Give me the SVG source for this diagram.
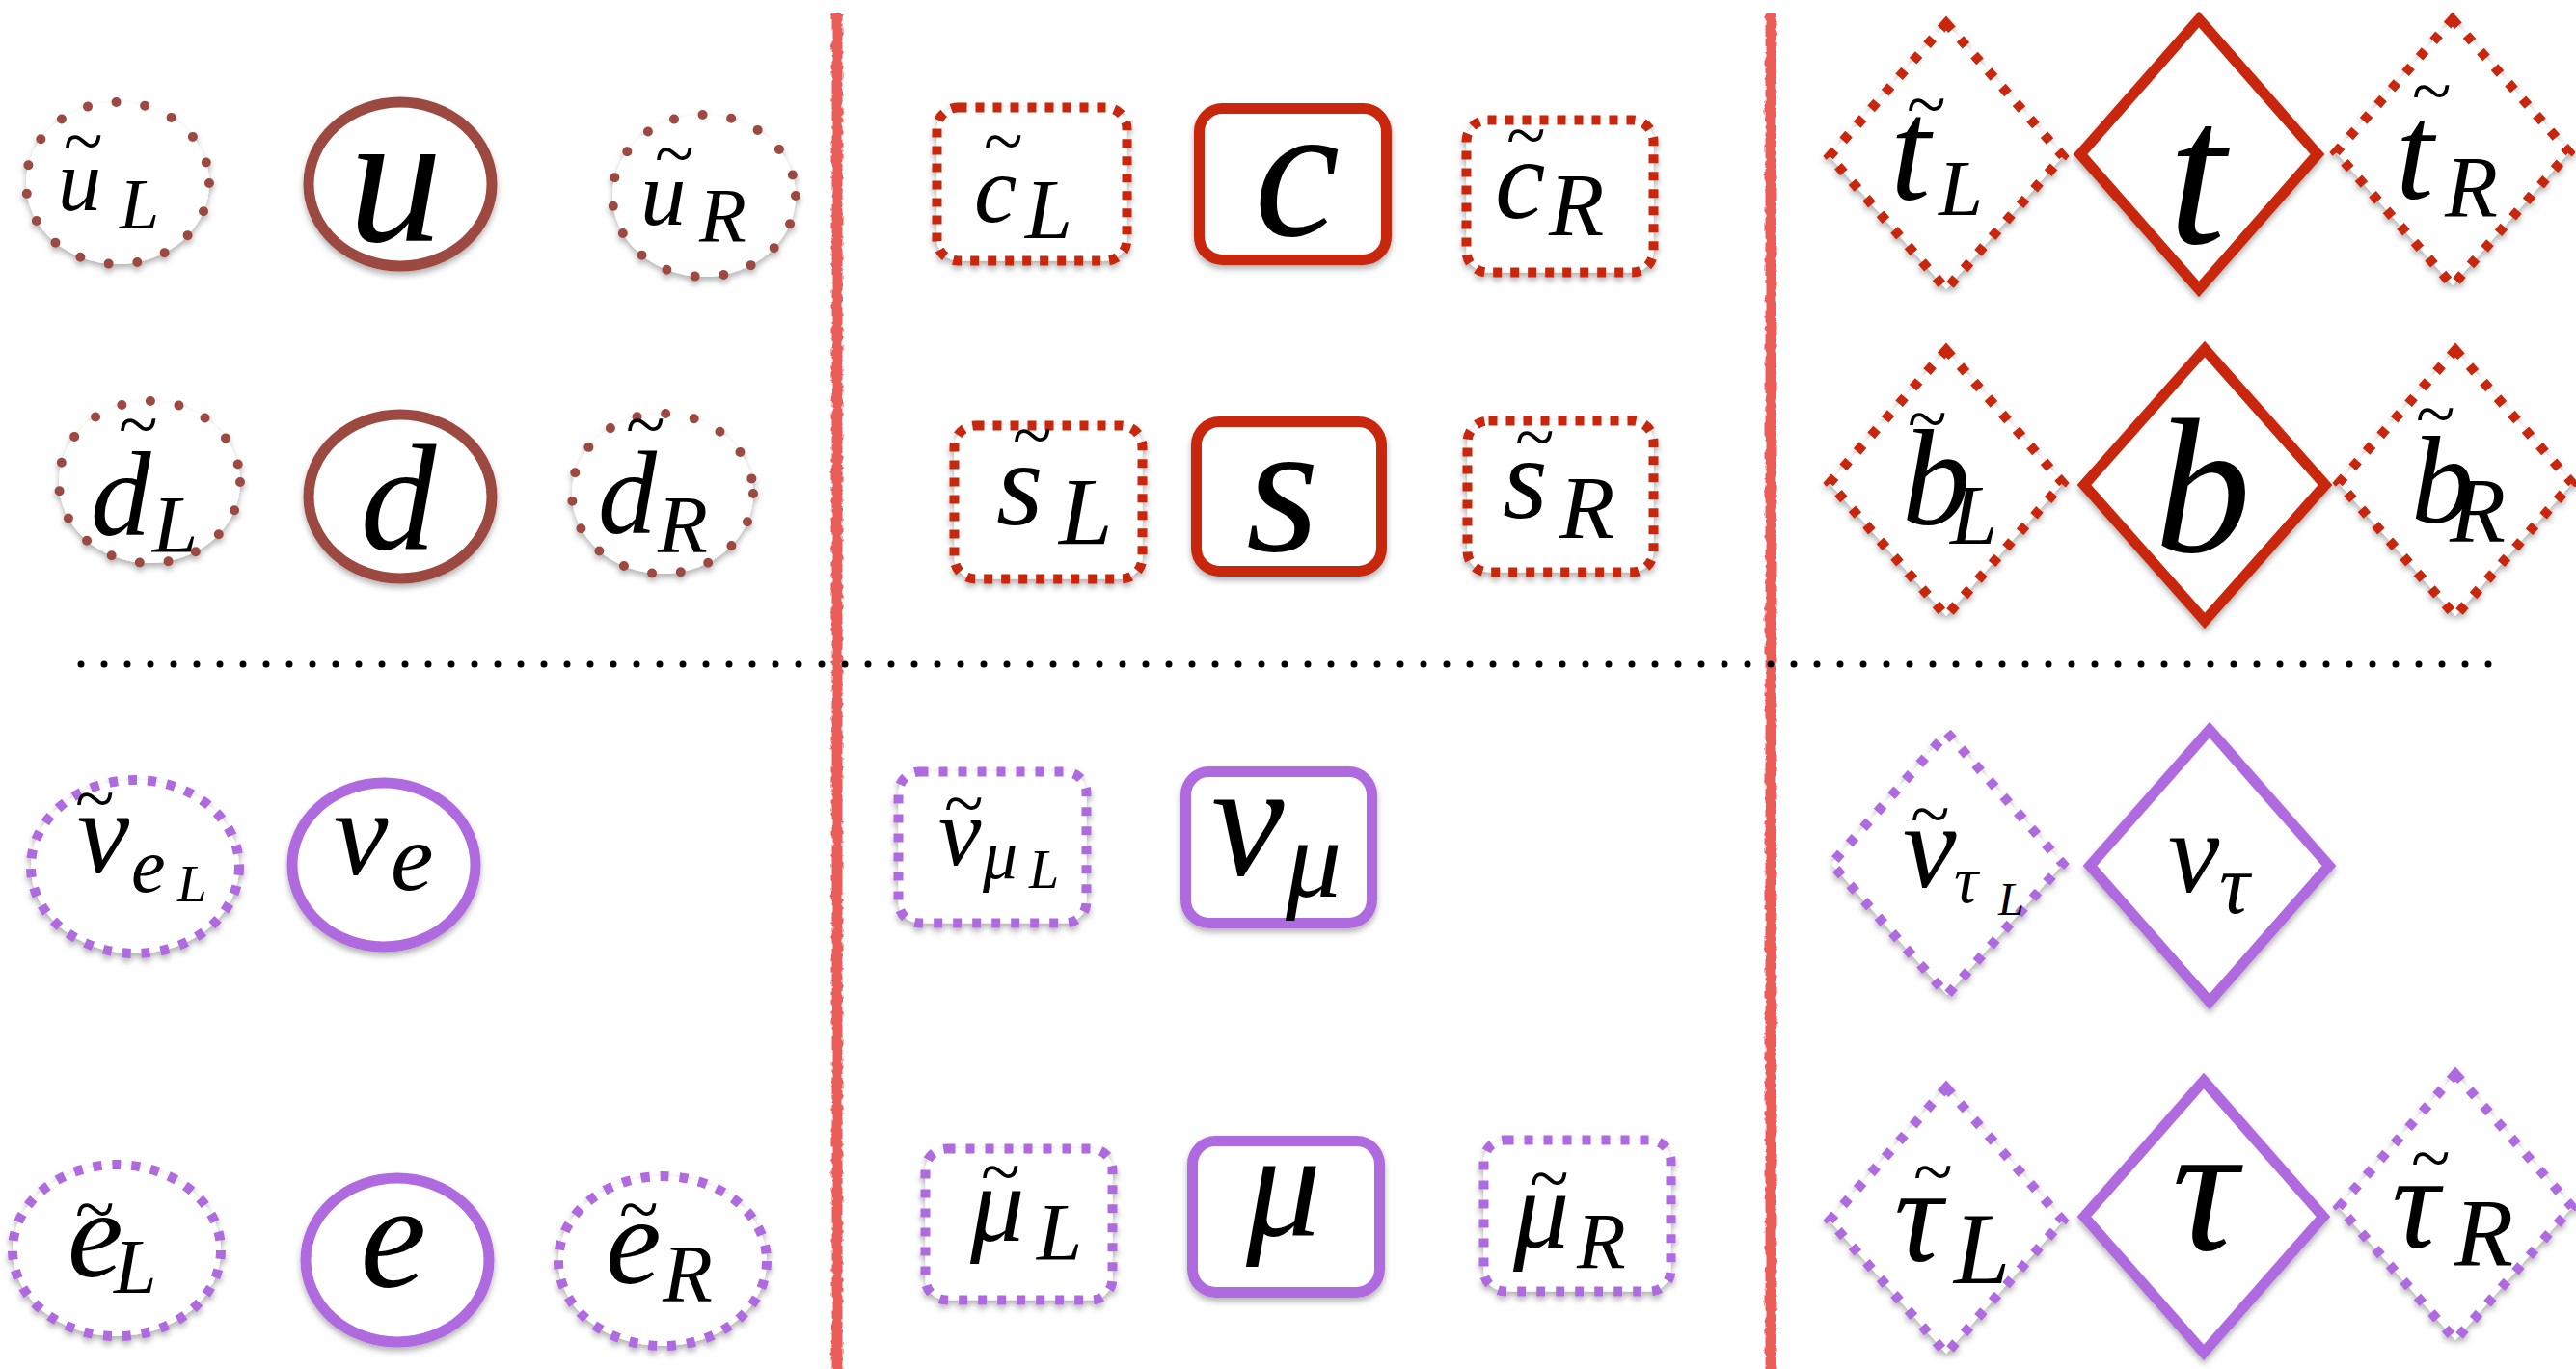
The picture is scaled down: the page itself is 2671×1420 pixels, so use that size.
<svg xmlns="http://www.w3.org/2000/svg" width="2671" height="1420" viewBox="0 0 2671 1420">
<defs>
<filter id="sh" x="-20%" y="-20%" width="140%" height="140%">
<feDropShadow dx="0" dy="4" stdDeviation="3" flood-color="#000" flood-opacity="0.3"/>
</filter>
<filter id="rough" filterUnits="userSpaceOnUse" x="0" y="0" width="2671" height="1420">
<feTurbulence type="fractalNoise" baseFrequency="0.15" numOctaves="2" seed="3"/>
<feDisplacementMap in="SourceGraphic" scale="5"/>
</filter>
</defs>
<style>
.m{font-family:"Liberation Serif","Times New Roman",serif;font-style:italic;fill:#000}
.tl{font-style:normal;font-size:75px}
.c{text-anchor:middle}
.n{fill:#fff;filter:url(#sh)}
.brd{stroke:#9c4a42;stroke-width:10;stroke-dasharray:0 30;stroke-linecap:round}
.brs{stroke:#9c4a42;stroke-width:11}
.rdd{stroke:#c8260c;stroke-width:10;stroke-dasharray:9 9}
.rds{stroke:#c8260c;stroke-width:11}
.rdg{stroke:#c8260c;stroke-width:10;stroke-dasharray:9 13}
.pud{stroke:#b06be0;stroke-width:10;stroke-dasharray:9 11}
.pus{stroke:#b06be0;stroke-width:11}
.pug{stroke:#b06be0;stroke-width:10;stroke-dasharray:9 13}
.sep{stroke:#ea5d58;stroke-width:11;fill:none}
.dots{stroke:#000;stroke-width:7;stroke-dasharray:0 24;stroke-linecap:round;fill:none}
</style>
<rect width="2671" height="1420" fill="#fff"/>
<g id="connectors">
<g filter="url(#rough)">
<line class="sep" x1="868" y1="14" x2="868" y2="1420"/>
<line class="sep" x1="1836" y1="14" x2="1836" y2="1420"/>
</g>
<line class="dots" x1="84" y1="689" x2="2590" y2="689"/>
</g>
<g id="uL"><ellipse class="n brd" cx="122" cy="190" rx="95" ry="84"/>
<text class="m"><tspan x="60" y="218" font-size="90">u</tspan><tspan class="tl" x="66" y="171">~</tspan><tspan x="124" y="237" font-size="74">L</tspan></text></g>
<g id="u"><ellipse class="n brs" cx="415" cy="191" rx="95" ry="85"/>
<text class="m c" x="410" y="250" font-size="195">u</text></g>
<g id="uR"><ellipse class="n brd" cx="730" cy="203" rx="95" ry="84"/>
<text class="m"><tspan x="664" y="233" font-size="95">u</tspan><tspan class="tl" x="679" y="184">~</tspan><tspan x="725" y="251" font-size="80">R</tspan></text></g>
<g id="dL"><ellipse class="n brd" cx="155" cy="500" rx="94" ry="84"/>
<text class="m"><tspan x="94" y="555" font-size="125">d</tspan><tspan class="tl" x="123" y="465">~</tspan><tspan x="158" y="573" font-size="85">L</tspan></text></g>
<g id="d"><ellipse class="n brs" cx="415" cy="515" rx="95" ry="85"/>
<text class="m c" x="413" y="569" font-size="157">d</text></g>
<g id="dR"><ellipse class="n brd" cx="687" cy="512" rx="94" ry="83"/>
<text class="m"><tspan x="620" y="553" font-size="122">d</tspan><tspan class="tl" x="649" y="465">~</tspan><tspan x="682" y="573" font-size="85">R</tspan></text></g>
<g id="cL"><rect class="n rdd" x="971.5" y="111.5" width="197" height="159" rx="22"/>
<text class="m"><tspan x="1010" y="230" font-size="100">c</tspan><tspan class="tl" x="1020" y="171">~</tspan><tspan x="1063" y="247" font-size="88">L</tspan></text></g>
<g id="c"><rect class="n rds" x="1243.5" y="112.5" width="194" height="157" rx="24"/>
<text class="m c" x="1345" y="244" font-size="200">c</text></g>
<g id="cR"><rect class="n rdd" x="1520.5" y="124.5" width="194" height="158" rx="22"/>
<text class="m"><tspan x="1550" y="226" font-size="118">c</tspan><tspan class="tl" x="1562" y="165">~</tspan><tspan x="1606" y="244" font-size="94">R</tspan></text></g>
<g id="sL"><rect class="n rdd" x="989.5" y="441.5" width="195" height="159" rx="22"/>
<text class="m"><tspan x="1033" y="544" font-size="125">s</tspan><tspan class="tl" x="1050" y="476">~</tspan><tspan x="1098" y="564" font-size="100">L</tspan></text></g>
<g id="s"><rect class="n rds" x="1240.5" y="437.5" width="192" height="155" rx="24"/>
<text class="m c" x="1330" y="571" font-size="195">s</text></g>
<g id="sR"><rect class="n rdd" x="1521.5" y="436.5" width="193" height="157" rx="22"/>
<text class="m"><tspan x="1558" y="537" font-size="120">s</tspan><tspan class="tl" x="1571" y="478">~</tspan><tspan x="1617" y="558" font-size="94">R</tspan></text></g>
<g id="tL"><polygon class="n rdg" points="2018,24 2139,162 2018,300 1897,162"/>
<text class="m"><tspan x="1960" y="207" font-size="150">t</tspan><tspan class="tl" x="1977" y="133">~</tspan><tspan x="2010" y="223" font-size="83">L</tspan></text></g>
<g id="t"><polygon class="n rds" points="2280,20 2403,160 2280,300 2157,160"/>
<text class="m c" x="2278" y="252" font-size="214">t</text></g>
<g id="tR"><polygon class="n rdg" points="2543,20 2664,158 2543,296 2422,158"/>
<text class="m"><tspan x="2484" y="206" font-size="142">t</tspan><tspan class="tl" x="2501" y="119">~</tspan><tspan x="2535" y="225" font-size="90">R</tspan></text></g>
<g id="bL"><polygon class="n rdg" points="2018,363 2139,501 2018,639 1897,501"/>
<text class="m"><tspan x="1972" y="544" font-size="142">b</tspan><tspan class="tl" x="1978" y="459">~</tspan><tspan x="2022" y="564" font-size="89">L</tspan></text></g>
<g id="b"><polygon class="n rds" points="2286,362 2411,503 2286,644 2161,503"/>
<text class="m c" x="2284" y="572" font-size="200">b</text></g>
<g id="bR"><polygon class="n rdg" points="2546,363 2667,501 2546,639 2425,501"/>
<text class="m"><tspan x="2500" y="542" font-size="130">b</tspan><tspan class="tl" x="2505" y="454">~</tspan><tspan x="2540" y="562" font-size="95">R</tspan></text></g>
<g id="nueL"><ellipse class="n pud" cx="140" cy="899" rx="108" ry="90"/>
<text class="m"><tspan x="80" y="905" font-size="122">ν</tspan><tspan class="tl" x="78" y="853">~</tspan><tspan x="136" y="925" font-size="80">e</tspan><tspan x="184" y="935" font-size="55">L</tspan></text></g>
<g id="nue"><ellipse class="n pus" cx="398" cy="897" rx="95" ry="85"/>
<text class="m"><tspan x="346" y="907" font-size="127">ν</tspan><tspan x="405" y="923" font-size="100">e</tspan></text></g>
<g id="eL"><ellipse class="n pud" cx="121" cy="1297" rx="108" ry="89"/>
<text class="m"><tspan x="70" y="1324" font-size="130">e</tspan><tspan class="tl" x="78" y="1279">~</tspan><tspan x="118" y="1341" font-size="80">L</tspan></text></g>
<g id="e"><ellipse class="n pus" cx="412" cy="1307" rx="95" ry="85"/>
<text class="m c" x="408" y="1334" font-size="155">e</text></g>
<g id="eR"><ellipse class="n pud" cx="687" cy="1308" rx="108" ry="88"/>
<text class="m"><tspan x="628" y="1331" font-size="130">e</tspan><tspan class="tl" x="642" y="1279">~</tspan><tspan x="687" y="1350" font-size="85">R</tspan></text></g>
<g id="numuL"><rect class="n pud" x="931.5" y="800.5" width="195" height="157" rx="22"/>
<text class="m"><tspan x="973" y="897" font-size="100">ν</tspan><tspan class="tl" x="979" y="858">~</tspan><tspan x="1019" y="911" font-size="72">μ</tspan><tspan x="1067" y="921" font-size="56">L</tspan></text></g>
<g id="numu"><rect class="n pus" x="1229.5" y="800.5" width="193" height="157" rx="24"/>
<text class="m"><tspan x="1256" y="907" font-size="170">ν</tspan><tspan x="1333" y="930" font-size="116">μ</tspan></text></g>
<g id="muL"><rect class="n pud" x="959.5" y="1191.5" width="194" height="157" rx="22"/>
<text class="m"><tspan x="1006" y="1287" font-size="112">μ</tspan><tspan class="tl" x="1017" y="1240">~</tspan><tspan x="1075" y="1307" font-size="85">L</tspan></text></g>
<g id="mu"><rect class="n pus" x="1236.5" y="1183.5" width="194" height="157" rx="24"/>
<text class="m c" x="1331" y="1281" font-size="155">μ</text></g>
<g id="muR"><rect class="n pud" x="1538.5" y="1182.5" width="194" height="157" rx="22"/>
<text class="m"><tspan x="1569" y="1294" font-size="116">μ</tspan><tspan class="tl" x="1586" y="1247">~</tspan><tspan x="1635" y="1315" font-size="83">R</tspan></text></g>
<g id="nutauL"><polygon class="n pug" points="2019,760 2139,896 2019,1032 1899,896"/>
<text class="m"><tspan x="1973" y="920" font-size="125">ν</tspan><tspan class="tl" x="1981" y="869">~</tspan><tspan x="2026" y="936" font-size="70">τ</tspan><tspan x="2072" y="949" font-size="48">L</tspan></text></g>
<g id="nutau"><polygon class="n pus" points="2291,757 2415,898 2291,1039 2167,898"/>
<text class="m"><tspan x="2248" y="925" font-size="120">ν</tspan><tspan x="2301" y="947" font-size="88">τ</tspan></text></g>
<g id="tauL"><polygon class="n pug" points="2018,1128 2139,1266 2018,1404 1897,1266"/>
<text class="m"><tspan x="1964" y="1308" font-size="140">τ</tspan><tspan class="tl" x="1984" y="1240">~</tspan><tspan x="2026" y="1331" font-size="105">L</tspan></text></g>
<g id="tau"><polygon class="n pus" points="2285,1121 2409,1262 2285,1403 2161,1262"/>
<text class="m c" x="2286" y="1296" font-size="190">τ</text></g>
<g id="tauR"><polygon class="n pug" points="2546,1114 2667,1252 2546,1390 2425,1252"/>
<text class="m"><tspan x="2480" y="1294" font-size="138">τ</tspan><tspan class="tl" x="2500" y="1226">~</tspan><tspan x="2545" y="1312" font-size="100">R</tspan></text></g>
</svg>
